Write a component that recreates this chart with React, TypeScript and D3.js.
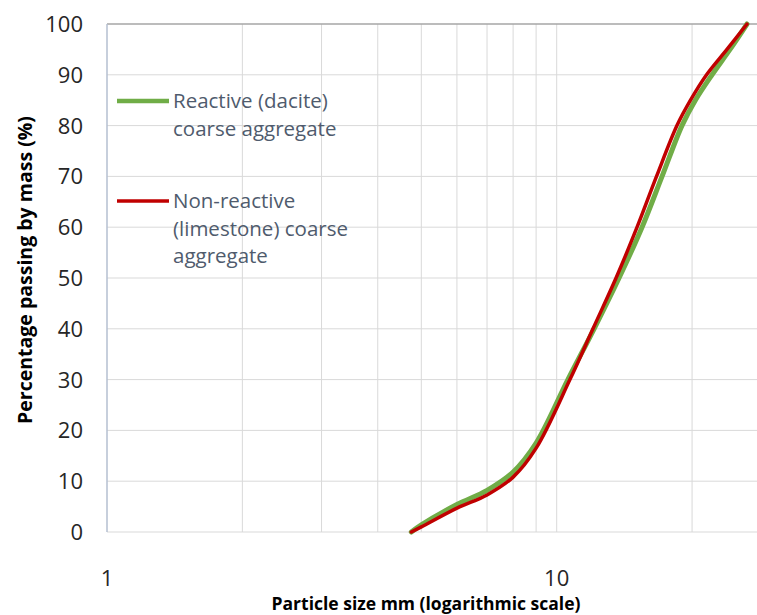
import { useEffect, useRef } from 'react';
import * as d3 from 'd3';

// reactive (dacite) coarse aggregate: particle size (mm) and % passing
const reactiveSize = [4.75, 5, 6, 7, 8, 9, 10.59, 12.11, 13.76, 15.48, 17.15, 18.99, 20.34, 22.15, 24.29, 26.5];
const reactivePassing = [0, 1.4, 5.4, 8.2, 11.8, 17.5, 30, 40, 50, 60, 70, 80, 85, 90, 95, 100];

// non-reactive (limestone) coarse aggregate
const nonReactiveSize = [4.75, 5, 6, 7, 8, 9, 10.7, 12.04, 13.55, 15.09, 16.67, 18.51, 19.84, 21.54, 23.91, 26.5];
const nonReactivePassing = [0, 1, 4.7, 7.3, 10.8, 16.5, 30, 40, 50, 60, 70, 80, 85, 90, 95, 100];

const yTicks = [0, 10, 20, 30, 40, 50, 60, 70, 80, 90, 100];
const xTickLabels = [1, 10];

const legendItems = [
  { lines: ['Reactive (dacite)', 'coarse aggregate'], color: '#70ad47' },
  { lines: ['Non-reactive', '(limestone) coarse', 'aggregate'], color: '#c00000' },
];

const W = 757;
const H = 615;
const FONT = '"Open Sans", sans-serif';

export default function App() {
  const ref = useRef<SVGSVGElement>(null);

  useEffect(() => {
    const svg = d3.select(ref.current);
    svg.selectAll('*').remove();

    const left = 107, top = 24, bottom = 532;
    const decade = 449.7;
    const x = d3.scaleLog().domain([1, 30]).range([left, left + Math.log10(30) * decade]);
    const y = d3.scaleLinear().domain([0, 100]).range([bottom, top]);

    // grid
    const grid = svg.append('g');
    grid.selectAll('line.v')
      .data(x.ticks().filter(d => d > 1))
      .enter().append('line')
      .attr('x1', d => x(d)).attr('x2', d => x(d))
      .attr('y1', top).attr('y2', bottom)
      .attr('stroke', '#d9d9d9').attr('stroke-width', 1);
    grid.selectAll('line.h')
      .data(yTicks)
      .enter().append('line')
      .attr('x1', left).attr('x2', W)
      .attr('y1', d => y(d)).attr('y2', d => y(d))
      .attr('stroke', d => d === 100 ? '#a6a6a6' : '#d9d9d9').attr('stroke-width', d => d === 100 ? 1.5 : 1);
    // left axis
    svg.append('line')
      .attr('x1', left).attr('x2', left).attr('y1', top).attr('y2', bottom)
      .attr('stroke', '#b4bfd0').attr('stroke-width', 1.5);

    // y tick labels
    svg.append('g').selectAll('text')
      .data(yTicks).enter().append('text')
      .attr('x', 83).attr('y', d => y(d)).attr('dy', '0.36em')
      .attr('text-anchor', 'end')
      .style('font-family', FONT).style('font-size', '22px').style('fill', '#262626')
      .text(d => d);

    // x tick labels
    svg.append('g').selectAll('text')
      .data(xTickLabels).enter().append('text')
      .attr('x', d => x(d)).attr('y', 586)
      .attr('text-anchor', 'middle')
      .style('font-family', FONT).style('font-size', '22px').style('fill', '#262626')
      .text(d => d);

    // axis titles
    svg.append('text')
      .attr('x', 426).attr('y', 610)
      .attr('text-anchor', 'middle')
      .style('font-family', FONT).style('font-size', '17.5px').style('font-weight', 700).style('fill', '#000')
      .text('Particle size mm (logarithmic scale)');
    svg.append('text')
      .attr('transform', 'translate(32, 270) rotate(-90)')
      .attr('text-anchor', 'middle')
      .style('font-family', FONT).style('font-size', '19.5px').style('font-weight', 700).style('fill', '#000')
      .text('Percentage passing by mass (%)');

    // curves
    const line = d3.line<[number, number]>()
      .x(d => x(d[0]))
      .y(d => y(d[1]))
      .curve(d3.curveCatmullRom.alpha(0.5));

    svg.append('path').datum(d3.zip(reactiveSize, reactivePassing) as [number, number][])
      .attr('d', line).attr('fill', 'none')
      .attr('stroke', '#70ad47').attr('stroke-width', 5).attr('stroke-linecap', 'round');
    svg.append('path').datum(d3.zip(nonReactiveSize, nonReactivePassing) as [number, number][])
      .attr('d', line).attr('fill', 'none')
      .attr('stroke', '#c00000').attr('stroke-width', 3.5).attr('stroke-linecap', 'round');

    // legend
    const legendY = [101, 201];
    legendItems.forEach((item, i) => {
      const g = svg.append('g').attr('transform', `translate(0, ${legendY[i]})`);
      g.append('line').attr('x1', 117).attr('x2', 169).attr('y1', 0).attr('y2', 0)
        .attr('stroke', item.color).attr('stroke-width', i === 0 ? 4.5 : 3.5);
      item.lines.forEach((t, j) => {
        g.append('text').attr('x', 173).attr('y', 7 + j * 27.5)
          .style('font-family', FONT).style('font-size', '20.5px').style('fill', '#4f5b6d')
          .text(t);
      });
    });
  }, []);

  return (
    <svg ref={ref} width={W} height={H}
      style={{ position: 'absolute', left: 0, top: 0, background: '#fff', overflow: 'hidden' }} />
  );
}
